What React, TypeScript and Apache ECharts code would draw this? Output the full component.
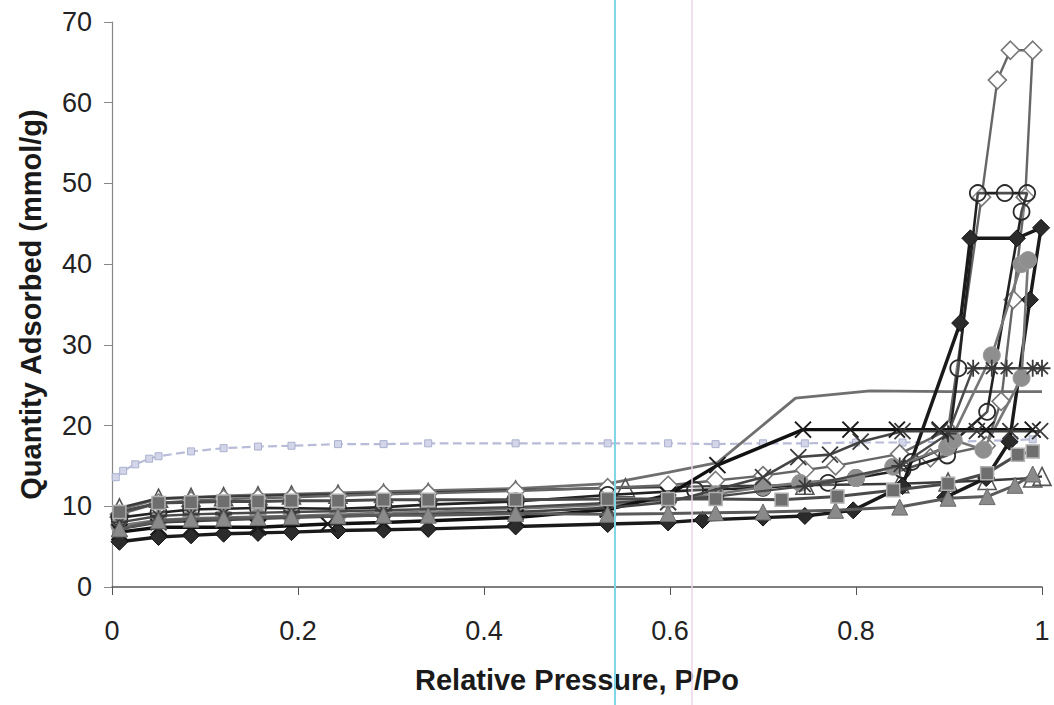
import React, { useEffect, useRef } from "react";
import * as echarts from "echarts";

// ---- tick labels / axes ----
const xTicks = [0, 0.2, 0.4, 0.6, 0.8, 1];
const yTicks = [0, 10, 20, 30, 40, 50, 60, 70];

// ---- series data (relative pressure P/Po, quantity adsorbed mmol/g) ----
// light Type I isotherm (small squares)
const microP = [0.004, 0.012, 0.025, 0.04, 0.05, 0.085, 0.12, 0.157, 0.193, 0.243, 0.292, 0.34, 0.434, 0.533, 0.598, 0.649, 0.7, 0.745, 0.8, 0.85, 0.9, 0.94, 0.97, 0.99];
const microQ = [13.6, 14.4, 15.2, 15.9, 16.2, 16.8, 17.2, 17.4, 17.5, 17.7, 17.7, 17.8, 17.8, 17.8, 17.8, 17.7, 17.8, 17.8, 17.9, 17.9, 18.0, 18.1, 18.2, 18.3];

// plain grey line rising to ~24
const plainP = [0.008, 0.05, 0.12, 0.193, 0.292, 0.434, 0.533, 0.598, 0.651, 0.735, 0.815, 0.9, 1.0];
const plainQ = [9.6, 10.9, 11.3, 11.5, 11.8, 12.2, 12.8, 14.2, 15.4, 23.4, 24.3, 24.2, 24.2];

// open diamonds (largest loop)
const openDiamondP = [0.008, 0.05, 0.085, 0.12, 0.157, 0.193, 0.243, 0.292, 0.34, 0.434, 0.533, 0.598, 0.649, 0.7, 0.745, 0.778, 0.847, 0.899, 0.935, 0.952, 0.966, 0.99, 0.982, 0.969, 0.956, 0.94, 0.88];
const openDiamondQ = [9.0, 10.4, 10.7, 10.9, 11.0, 11.1, 11.3, 11.5, 11.6, 11.9, 12.3, 12.6, 13.2, 13.8, 14.5, 15.0, 16.5, 19.5, 48.3, 62.8, 66.5, 66.5, 48.3, 35.6, 23.0, 17.5, 16.0];

// open circles
const openCircleP = [0.008, 0.05, 0.085, 0.157, 0.243, 0.292, 0.34, 0.434, 0.533, 0.627, 0.7, 0.77, 0.8, 0.85, 0.898, 0.91, 0.931, 0.96, 0.984, 0.978, 0.941, 0.9, 0.86];
const openCircleQ = [8.6, 9.2, 9.6, 9.8, 9.7, 9.9, 10.2, 10.6, 11.4, 12.0, 12.3, 12.9, 13.5, 14.5, 16.3, 27.1, 48.8, 48.8, 48.8, 46.5, 21.7, 17.5, 15.5];

// filled black diamonds
const filledDiamondP = [0.008, 0.05, 0.085, 0.12, 0.157, 0.193, 0.243, 0.292, 0.34, 0.434, 0.533, 0.598, 0.635, 0.7, 0.745, 0.797, 0.85, 0.912, 0.923, 0.973, 0.999, 0.987, 0.965, 0.94, 0.896];
const filledDiamondQ = [5.6, 6.2, 6.4, 6.6, 6.7, 6.8, 7.0, 7.1, 7.2, 7.5, 7.8, 8.0, 8.3, 8.6, 8.8, 9.5, 12.5, 32.7, 43.2, 43.2, 44.5, 35.6, 18.0, 13.5, 11.1];

// grey filled circles
const greyCircleP = [0.008, 0.05, 0.085, 0.12, 0.157, 0.193, 0.243, 0.292, 0.34, 0.434, 0.533, 0.598, 0.649, 0.7, 0.74, 0.8, 0.84, 0.898, 0.946, 0.978, 0.985, 0.978, 0.937, 0.905];
const greyCircleQ = [7.6, 8.3, 8.5, 8.6, 8.7, 8.8, 9.0, 9.2, 9.3, 9.7, 10.2, 10.8, 11.5, 12.4, 12.9, 13.5, 14.9, 17.3, 28.7, 40.0, 40.5, 25.9, 17.0, 18.2];

// asterisks
const asteriskP = [0.008, 0.05, 0.085, 0.12, 0.193, 0.292, 0.434, 0.533, 0.649, 0.745, 0.847, 0.899, 0.926, 0.946, 0.962, 0.99, 1.0];
const asteriskQ = [8.0, 8.8, 9.0, 9.1, 9.3, 9.5, 9.9, 10.4, 11.2, 12.5, 15.0, 19.0, 27.1, 27.1, 27.1, 27.1, 27.1];

// black crosses
const crossBlackP = [0.008, 0.05, 0.085, 0.157, 0.232, 0.292, 0.434, 0.533, 0.598, 0.651, 0.743, 0.794, 0.844, 0.89, 0.94, 0.99];
const crossBlackQ = [6.8, 7.4, 7.4, 7.4, 7.8, 8.0, 8.6, 9.6, 11.4, 15.1, 19.5, 19.5, 19.5, 19.5, 19.5, 19.5];

// grey crosses
const crossGreyP = [0.008, 0.05, 0.12, 0.193, 0.292, 0.434, 0.533, 0.598, 0.7, 0.738, 0.772, 0.805, 0.85, 0.89, 0.93, 0.966, 0.998];
const crossGreyQ = [7.2, 8.0, 8.3, 8.6, 8.9, 9.3, 9.8, 10.5, 13.6, 16.1, 16.4, 18.0, 19.3, 19.3, 19.3, 19.3, 19.3];

// grey filled triangles
const filledTriP = [0.008, 0.05, 0.085, 0.12, 0.157, 0.193, 0.243, 0.292, 0.34, 0.434, 0.533, 0.598, 0.649, 0.7, 0.778, 0.847, 0.899, 0.941, 0.971, 0.99];
const filledTriQ = [7.2, 8.2, 8.4, 8.5, 8.6, 8.7, 8.8, 8.9, 8.9, 9.1, 9.0, 9.1, 9.2, 9.3, 9.5, 9.9, 11.0, 11.2, 12.6, 14.0];

// dark squares
const squareP = [0.008, 0.05, 0.085, 0.12, 0.157, 0.193, 0.243, 0.292, 0.34, 0.434, 0.533, 0.598, 0.649, 0.72, 0.78, 0.84, 0.899, 0.941, 0.974, 0.99];
const squareQ = [9.3, 10.4, 10.5, 10.6, 10.6, 10.7, 10.7, 10.8, 10.8, 10.8, 10.9, 10.9, 10.9, 10.8, 11.2, 12.0, 12.8, 14.1, 16.4, 16.8];

// open triangles
const openTriP = [0.008, 0.05, 0.085, 0.12, 0.157, 0.193, 0.243, 0.292, 0.34, 0.434, 0.552, 0.649, 0.745, 0.847, 0.899, 0.941, 0.99, 1.0];
const openTriQ = [9.8, 11.0, 11.1, 11.2, 11.3, 11.4, 11.5, 11.6, 11.7, 12.0, 12.3, 12.5, 12.6, 12.8, 13.0, 13.2, 13.5, 13.7];

const FONT = "'Liberation Sans', Arial, sans-serif";
const CROSS = "path://M0,0L10,10M10,0L0,10";
const STAR = "path://M0,5L10,5M5,0L5,10M1.5,1.5L8.5,8.5M8.5,1.5L1.5,8.5";

const pairs = (p: number[], q: number[]) => p.map((x, i) => [x, q[i]]);

function mk(name: string, p: number[], q: number[], o: any) {
  return {
    type: "line",
    name,
    data: pairs(p, q),
    clip: false,
    symbol: o.symbol,
    symbolSize: o.size,
    showSymbol: o.symbol !== "none",
    lineStyle: { color: o.line, width: o.width, type: o.dash || "solid" },
    itemStyle: { color: o.fill, borderColor: o.border, borderWidth: o.bw },
    z: o.z,
  };
}

export default function App() {
  const ref = useRef<HTMLDivElement>(null);
  useEffect(() => {
    if (!ref.current) return;
    const chart = echarts.init(ref.current, undefined, { renderer: "svg" });
    const option: any = {
      animation: false,
      backgroundColor: "#fff",
      grid: { left: 112, right: 12, top: 22, bottom: 118, containLabel: false },
      xAxis: {
        type: "value",
        min: xTicks[0],
        max: xTicks[xTicks.length - 1],
        interval: 0.2,
        name: "Relative Pressure, P/Po",
        nameLocation: "middle",
        nameGap: 78,
        nameTextStyle: { fontFamily: FONT, fontSize: 29, fontWeight: "bold", color: "#1a1a1a" },
        axisLine: { lineStyle: { color: "#555", width: 1.5 } },
        axisTick: { length: 8, lineStyle: { color: "#555" } },
        axisLabel: { margin: 30, fontSize: 27, color: "#222", fontFamily: FONT },
        splitLine: { show: false },
      },
      yAxis: {
        type: "value",
        min: yTicks[0],
        max: yTicks[yTicks.length - 1],
        interval: 10,
        name: "Quantity Adsorbed (mmol/g)",
        nameLocation: "middle",
        nameGap: 67,
        nameTextStyle: { fontFamily: FONT, fontSize: 29, fontWeight: "bold", color: "#1a1a1a" },
        axisLine: { show: true, lineStyle: { color: "#888", width: 1.2 } },
        axisTick: { show: true, length: 8, lineStyle: { color: "#888" } },
        axisLabel: { margin: 20, fontSize: 27, color: "#222", fontFamily: FONT },
        splitLine: { show: false },
      },
      series: [
        mk("micro", microP, microQ, { symbol: "rect", size: 7, line: "#b8bcd8", width: 2.2, dash: "dashed", fill: "#d3d6e8", border: "#aab0cf", bw: 1, z: 2 }),
        mk("plain", plainP, plainQ, { symbol: "none", size: 0, line: "#6f6f6f", width: 2.8, z: 3 }),
        mk("openDiamond", openDiamondP, openDiamondQ, { symbol: "diamond", size: 18, line: "#666", width: 2.4, fill: "#ffffff", border: "#777", bw: 1.6, z: 4 }),
        mk("openCircle", openCircleP, openCircleQ, { symbol: "circle", size: 16, line: "#222", width: 2.6, fill: "rgba(255,255,255,0.2)", border: "#2a2a2a", bw: 1.8, z: 5 }),
        mk("filledDiamond", filledDiamondP, filledDiamondQ, { symbol: "diamond", size: 17, line: "#1a1a1a", width: 3.4, fill: "#2b2b2b", border: "#111", bw: 1, z: 6 }),
        mk("greyCircle", greyCircleP, greyCircleQ, { symbol: "circle", size: 17, line: "#777", width: 2.6, fill: "#8e8e8e", border: "#9a9a9a", bw: 1, z: 7 }),
        mk("asterisk", asteriskP, asteriskQ, { symbol: STAR, size: 17, line: "#4a4a4a", width: 2.4, fill: "rgba(0,0,0,0)", border: "#3a3a3a", bw: 1.8, z: 8 }),
        mk("crossBlack", crossBlackP, crossBlackQ, { symbol: CROSS, size: 16, line: "#111", width: 3.4, fill: "rgba(0,0,0,0)", border: "#1a1a1a", bw: 2, z: 9 }),
        mk("crossGrey", crossGreyP, crossGreyQ, { symbol: CROSS, size: 16, line: "#444", width: 2.6, fill: "rgba(0,0,0,0)", border: "#3a3a3a", bw: 1.8, z: 9 }),
        mk("filledTri", filledTriP, filledTriQ, { symbol: "triangle", size: 16, line: "#5a5a5a", width: 3, fill: "#8a8a8a", border: "#6a6a6a", bw: 1, z: 10 }),
        mk("square", squareP, squareQ, { symbol: "rect", size: 13, line: "#4a4a4a", width: 3, fill: "#6e6e6e", border: "#b0b0b0", bw: 1.5, z: 11 }),
        mk("openTri", openTriP, openTriQ, { symbol: "triangle", size: 18, line: "#3a3a3a", width: 2.4, fill: "rgba(255,255,255,0)", border: "#555", bw: 1.6, z: 3 }),
      ],
      graphic: [
        { type: "line", shape: { x1: 615, y1: 0, x2: 615, y2: 705 }, style: { stroke: "#7fd6e6", lineWidth: 2 }, z: 100 },
        { type: "line", shape: { x1: 692, y1: 0, x2: 692, y2: 705 }, style: { stroke: "#efd3ea", lineWidth: 1.5 }, z: 100 },
      ],
    };
    chart.setOption(option);
    return () => chart.dispose();
  }, []);
  return (
    <div
      ref={ref}
      style={{ position: "fixed", left: 0, top: 0, width: 1054, height: 705, background: "#fff" }}
    />
  );
}
